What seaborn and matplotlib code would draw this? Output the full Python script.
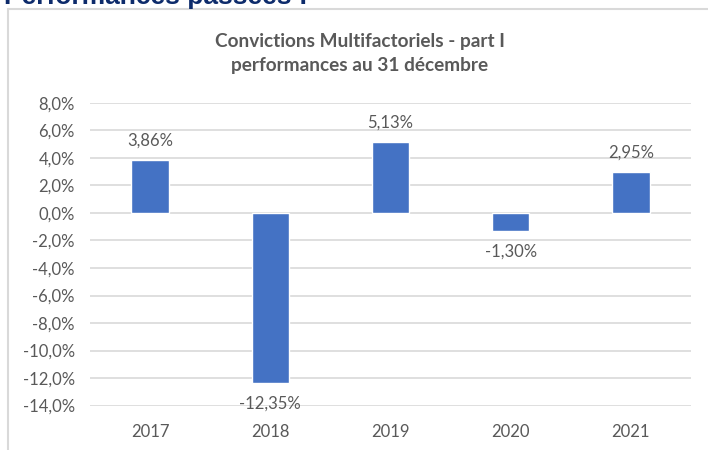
import matplotlib
matplotlib.use("Agg")
import matplotlib.pyplot as plt
import seaborn as sns
import pandas as pd
from matplotlib.lines import Line2D

years = ["2017", "2018", "2019", "2020", "2021"]
perf = [3.86, -12.35, 5.13, -1.30, 2.95]
labels = ["3,86%", "-12,35%", "5,13%", "-1,30%", "2,95%"]
yticks = [8, 6, 4, 2, 0, -2, -4, -6, -8, -10, -12, -14]
title = "Convictions Multifactoriels - part I\nperformances au 31 décembre"
heading = "Performances passées :"

sns.set_theme(style="white")
plt.rcParams['font.family'] = ['Lato', 'DejaVu Sans']

grey = "#595959"
df = pd.DataFrame({"year": years, "perf": perf})

fig = plt.figure(figsize=(7.08, 4.5), dpi=100)
ax = fig.add_axes([90/708, 1-405.5/450, 601/708, (405.5-103)/450])

sns.barplot(data=df, x="year", y="perf", color="#4472C4", width=0.31,
            saturation=1, ax=ax, zorder=3)

ax.set_ylim(-14, 8)
ax.set_yticks(yticks)
ax.set_yticklabels([f"{v:.1f}%".replace(".", ",") for v in yticks])
ax.yaxis.grid(True, color="#D9D9D9", linewidth=1.2, zorder=0)
ax.set_axisbelow(True)
for s in ax.spines.values():
    s.set_visible(False)
ax.set_xlabel("")
ax.set_ylabel("")
ax.tick_params(axis="both", length=0, colors=grey, labelsize=12)
ax.tick_params(axis="y", pad=11)
ax.tick_params(axis="x", pad=13)
ax.set_xlim(-0.5, 4.5)

for i, (v, lab) in enumerate(zip(perf, labels)):
    off = 14 if v >= 0 else -15
    ax.annotate(lab, (i, v), xytext=(0, off), textcoords="offset points",
                ha="center", va="center", color=grey, fontsize=12)

fig.text(360/708, 1-53/450, title, ha="center", va="center", color=grey,
         fontsize=13.7, fontweight="bold", linespacing=1.5)

# outer chart frame
fig.add_artist(Line2D([8/708, 8/708], [0, 1-9/450], transform=fig.transFigure,
                      color="#D9D9D9", linewidth=1.5))
fig.add_artist(Line2D([8/708, 1], [1-9/450, 1-9/450], transform=fig.transFigure,
                      color="#D9D9D9", linewidth=1.5))

fig.text(4/708, 1-4/450, heading, ha="left", va="baseline", color="#0D2B6B",
         fontsize=19, fontweight="bold", family=["Liberation Sans", "DejaVu Sans"])

fig.savefig("out.png", dpi=100)
